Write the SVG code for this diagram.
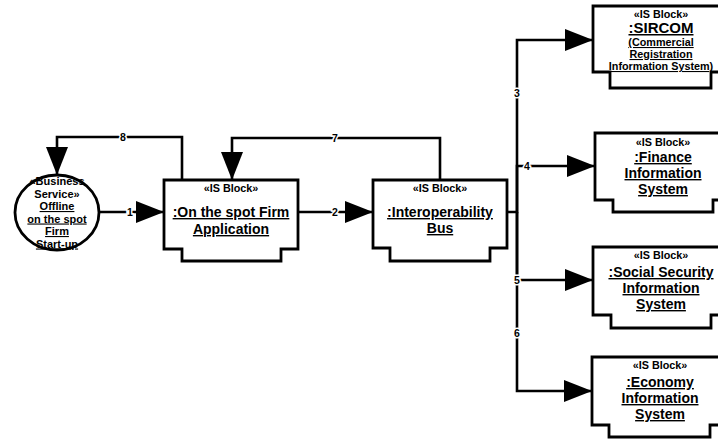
<svg xmlns="http://www.w3.org/2000/svg" width="718" height="440" viewBox="0 0 718 440">
<style>
.blk{fill:#fff;stroke:#000;stroke-width:2.8;stroke-linejoin:miter}
.con{fill:none;stroke:#000;stroke-width:2.6}
text{font-family:"Liberation Sans",Arial,sans-serif;font-weight:bold;fill:#000;text-anchor:middle}
.st{font-size:10.8px}
.nm{font-size:14px;text-decoration:underline}
.sm{font-size:10.8px;text-decoration:underline}
.cs{font-size:11px}
.lb{font-size:10.5px;stroke:#fff;stroke-width:3;paint-order:stroke}
</style>
<defs>
<marker id="arr" markerUnits="userSpaceOnUse" markerWidth="28" markerHeight="22" refX="28" refY="11" orient="auto">
<path d="M0,0 L28,11 L0,22 Z" fill="#000"/>
</marker>
</defs>
<g id="connectors">
<path class="con" d="M99,212 H164" marker-end="url(#arr)"/>
<path class="con" d="M298,212 H373" marker-end="url(#arr)"/>
<path class="con" d="M507,212 H517 V40 H593" marker-end="url(#arr)"/>
<path class="con" d="M517,212 V166 H595" marker-end="url(#arr)"/>
<path class="con" d="M517,212 V280 H593" marker-end="url(#arr)"/>
<path class="con" d="M517,212 V391 H592" marker-end="url(#arr)"/>
<path class="con" d="M440,180 V138 H232 V180" marker-end="url(#arr)"/>
<path class="con" d="M182,180 V137 H57 V175" marker-end="url(#arr)"/>
<text class="lb" x="130" y="216">1</text>
<text class="lb" x="335" y="216">2</text>
<text class="lb" x="517" y="97">3</text>
<text class="lb" x="527" y="170">4</text>
<text class="lb" x="517" y="284">5</text>
<text class="lb" x="517" y="337">6</text>
<text class="lb" x="335" y="142">7</text>
<text class="lb" x="123" y="141">8</text>
</g>
<g id="business-service">
<ellipse cx="57" cy="212.5" rx="42" ry="37.5" fill="#fff" stroke="#000" stroke-width="2.8"/>
<text class="cs" x="57" y="185">«Business</text>
<text class="cs" x="57" y="197.5">Service»</text>
<text class="cs" x="57" y="210" text-decoration="underline">Offline</text>
<text class="cs" x="57" y="222.5" text-decoration="underline">on the spot</text>
<text class="cs" x="57" y="235" text-decoration="underline">Firm</text>
<text class="cs" x="57" y="247.5" text-decoration="underline">Start-up</text>
</g>
<g id="firm-application">
<path class="blk" d="M164,180 H298 V249 H281 V261 H182 V249 H164 Z"/>
<text class="st" x="231" y="192">«IS Block»</text>
<text class="nm" x="231" y="217">:On the spot Firm</text>
<text class="nm" x="231" y="234">Application</text>
</g>
<g id="interoperability-bus">
<path class="blk" d="M373,180 H507 V248 H490 V261 H390 V248 H373 Z"/>
<text class="st" x="440" y="192">«IS Block»</text>
<text class="nm" x="440" y="217">:Interoperability</text>
<text class="nm" x="440" y="233">Bus</text>
</g>
<g id="sircom">
<path class="blk" d="M593,6 H729 V72 H711 V88 H610 V72 H593 Z"/>
<text class="st" x="661" y="18">«IS Block»</text>
<text class="nm" x="661" y="33" style="font-size:15px">:SIRCOM</text>
<text class="sm" x="661" y="46">(Commercial</text>
<text class="sm" x="661" y="58">Registration</text>
<text class="sm" x="661" y="70">Information System)</text>
</g>
<g id="finance">
<path class="blk" d="M595,133 H731 V200 H713 V212 H613 V200 H595 Z"/>
<text class="st" x="663" y="146">«IS Block»</text>
<text class="nm" x="663" y="162">:Finance</text>
<text class="nm" x="663" y="178">Information</text>
<text class="nm" x="663" y="194">System</text>
</g>
<g id="social-security">
<path class="blk" d="M593,247 H729 V315 H711 V328 H611 V315 H593 Z"/>
<text class="st" x="661" y="259">«IS Block»</text>
<text class="nm" x="661" y="277">:Social Security</text>
<text class="nm" x="661" y="293">Information</text>
<text class="nm" x="661" y="309">System</text>
</g>
<g id="economy">
<path class="blk" d="M592,357 H728 V425 H710 V437 H609 V425 H592 Z"/>
<text class="st" x="660" y="369">«IS Block»</text>
<text class="nm" x="660" y="387">:Economy</text>
<text class="nm" x="660" y="403">Information</text>
<text class="nm" x="660" y="419">System</text>
</g>
</svg>
